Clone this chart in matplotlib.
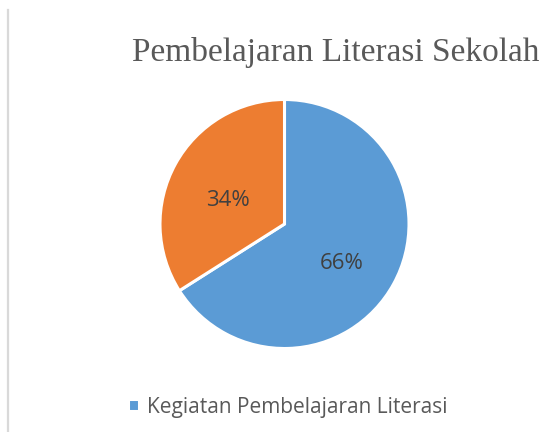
import matplotlib
matplotlib.use("Agg")
import matplotlib.pyplot as plt
from matplotlib.lines import Line2D
import matplotlib.transforms as mtransforms

title = "Pembelajaran Literasi Sekolah"
categories = ["Kegiatan Pembelajaran Literasi", ""]
values = [66, 34]
colors = ["#5B9BD5", "#ED7D31"]

W, H = 552, 432
fig = plt.figure(figsize=(W / 100, H / 100), dpi=100)
fig.patch.set_facecolor("white")

# left border line
fig.add_artist(Line2D([7.5 / W, 7.5 / W], [0, 1 - 10 / H], transform=fig.transFigure,
                      color="#D9D9D9", linewidth=1.6))

cx, cy, r = 284.5, 224.0, 124.5
ax = fig.add_axes([(cx - r) / W, (H - cy - r) / H, 2 * r / W, 2 * r / H])
wedges, texts, autotexts = ax.pie(
    values, colors=colors, startangle=90, counterclock=False,
    autopct=lambda p: f"{p:.0f}%", pctdistance=0.52,
    wedgeprops=dict(edgecolor="white", linewidth=2.2),
    textprops=dict(color="#404040", fontsize=16, family="Open Sans"),
)
shift = mtransforms.ScaledTranslation(0, -8 / 100, fig.dpi_scale_trans)
for t in autotexts:
    t.set_transform(t.get_transform() + shift)
ax.set_xlim(-1, 1)
ax.set_ylim(-1, 1)
ax.set_aspect("equal")
ax.axis("off")

fig.text(336 / W, 1 - 61 / H, title, ha="center", va="baseline",
         fontsize=24, color="#595959", family="Liberation Serif")

leg = fig.legend([wedges[0]], [categories[0]], loc="center",
                 bbox_to_anchor=(288 / W, 1 - 407 / H), frameon=False,
                 handlelength=0.5, handleheight=0.5, handletextpad=0.4,
                 prop=dict(family="Open Sans", size=15))
for t in leg.get_texts():
    t.set_color("#595959")

fig.savefig("out.png", dpi=100, facecolor="white")
